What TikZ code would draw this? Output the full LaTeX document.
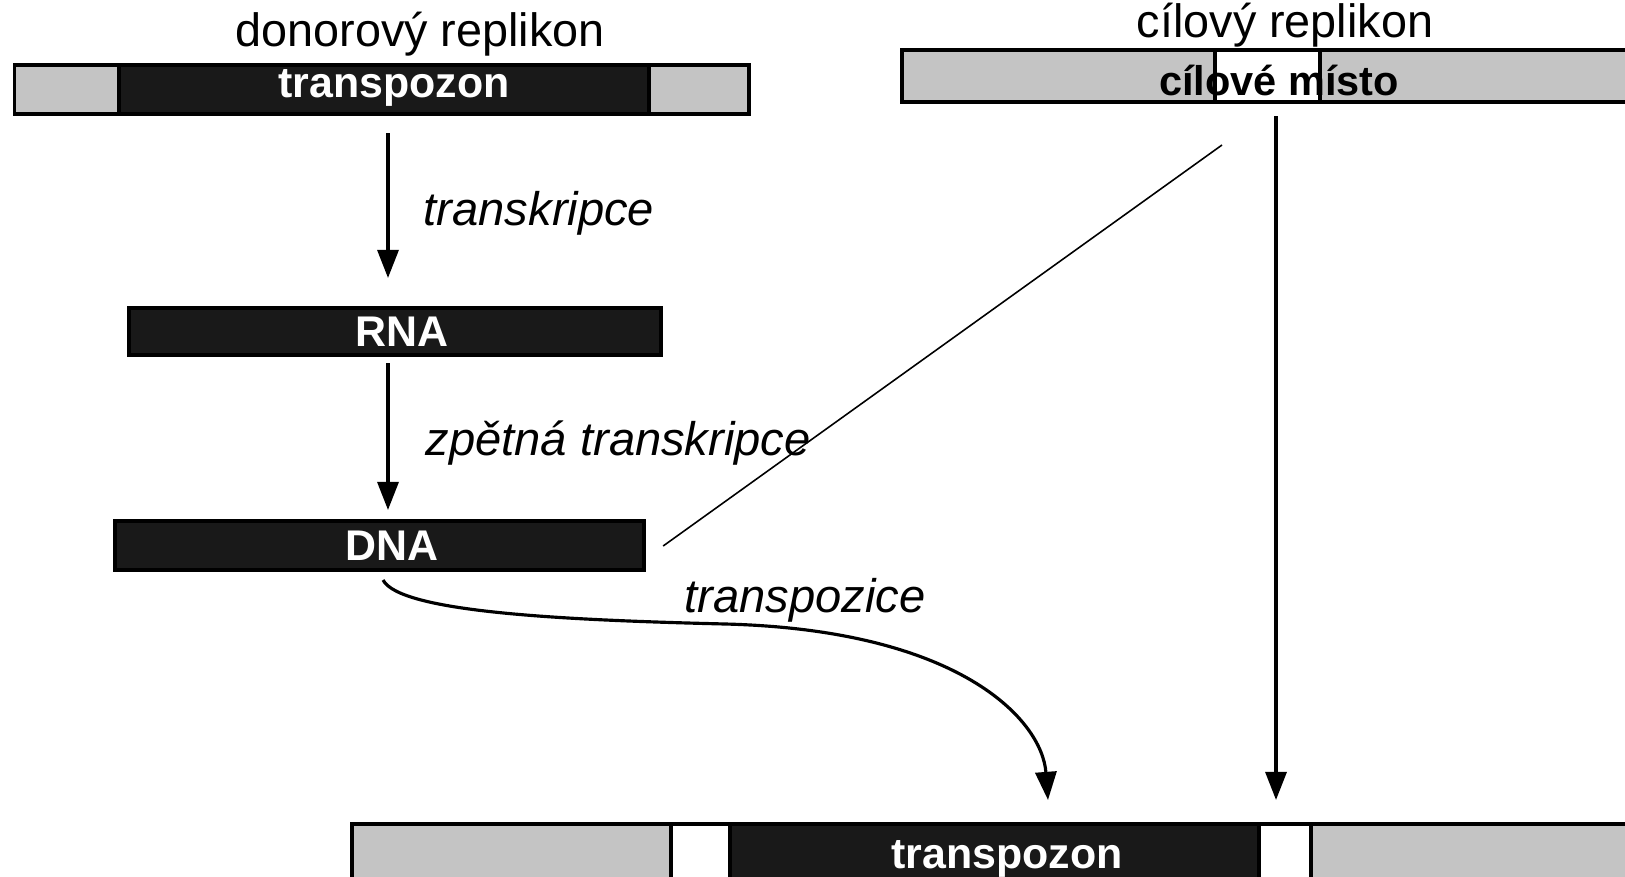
\documentclass[tikz,border=0pt]{standalone}
\usepackage{fontspec}
\setmainfont{Liberation Sans}
\usetikzlibrary{arrows.meta,calc}
\begin{document}
\begin{tikzpicture}[x=0.01cm,y=-0.01cm,
  seg/.style={draw=black,line width=1.1pt,inner sep=0pt,outer sep=0pt},
  grayseg/.style={seg,fill=black!23},
  blackseg/.style={seg,fill=black!90},
  whiteseg/.style={seg,fill=white},
  title/.style={inner sep=0pt,anchor=base,font=\fontsize{13.3}{16}\selectfont},
  lab/.style={inner sep=0pt,anchor=base west,font=\fontsize{13.4}{16}\selectfont\itshape},
  bartext/.style={inner sep=0pt,anchor=base,text=white,font=\fontsize{12.2}{14}\selectfont\bfseries},
  sitetext/.style={inner sep=0pt,anchor=base,text=black,font=\fontsize{11.8}{14}\selectfont\bfseries},
  arr/.style={line width=0.9pt,-{Triangle[width=6pt,length=8pt]}},
  thinline/.style={line width=0.45pt},
]
\useasboundingbox[fill=white] (0,0) rectangle (1625,877);

% titles
\node[title] (donor) at (420,47) {donorový replikon};
\node[title] (target) at (1285,38) {cílový replikon};

% donor replicon bar
\node[grayseg,minimum width=1.045cm,minimum height=0.49cm] (tl_g1) at (66.75,89.5) {};
\node[blackseg,minimum width=5.30cm,minimum height=0.49cm] (tl_black) at (384,89.5) {};
\node[grayseg,minimum width=1.00cm,minimum height=0.49cm] (tl_g2) at (699,89.5) {};
\node[bartext] (tl_text) at (394,98) {transpozon};

% target replicon bar
\node[grayseg,minimum width=3.13cm,minimum height=0.52cm] (tr_g1) at (1058.5,76) {};
\node[whiteseg,minimum width=1.05cm,minimum height=0.52cm] (tr_white) at (1267.5,76) {};
\node[grayseg,minimum width=3.10cm,minimum height=0.52cm] (tr_g2) at (1475,76) {};
\node[sitetext] (site) at (1279,96) {cílové místo};
\draw[line width=1.1pt] (tr_white.north west) -- (tr_white.south west);
\draw[line width=1.1pt] (tr_white.north east) -- (tr_white.south east);

% RNA and DNA
\node[blackseg,minimum width=5.32cm,minimum height=0.47cm] (rna) at (395,331.5) {};
\node[bartext] (rna_text) at (402,347) {RNA};
\node[blackseg,minimum width=5.29cm,minimum height=0.49cm] (dna) at (379.5,545.5) {};
\node[bartext] (dna_text) at (392,561) {DNA};

% bottom bar
\node[grayseg,minimum width=3.19cm,minimum height=0.56cm] (bb_g1) at (511.5,852) {};
\node[whiteseg,minimum width=0.59cm,minimum height=0.56cm] (bb_w1) at (700.5,852) {};
\node[blackseg,minimum width=5.29cm,minimum height=0.56cm] (bb_black) at (994.5,852) {};
\node[whiteseg,minimum width=0.52cm,minimum height=0.56cm] (bb_w2) at (1285,852) {};
\node[grayseg,minimum width=3.19cm,minimum height=0.56cm] (bb_g2) at (1470.5,852) {};
\node[bartext] (bb_text) at (1007,868) {transpozon};

% labels
\node[lab] (l_trans) at (423,226) {transkripce};
\node[lab] (l_rev) at (425,456) {zpětná transkripce};
\node[lab] (l_pos) at (684,613) {transpozice};

% connectors
\coordinate (ax) at (388,0);
\coordinate (vx) at (1276,0);
\coordinate (diagEnd) at (1222,145);
\draw[arr,shorten <=0.19cm,shorten >=0.30cm] (ax |- tl_black.south) -- (ax |- rna.north);
\draw[arr,shorten <=0.08cm,shorten >=0.11cm] (ax |- rna.south) -- (ax |- dna.north);
\draw[thinline] ($(dna.east)+(19,0.5)$) -- (diagEnd);
\draw[arr,shorten <=0.14cm,shorten >=0.24cm] (vx |- tr_white.south) -- (vx |- bb_black.north);
\draw[arr] ($(dna.south)+(3.5,10)$) .. controls (400,612) and (560,620) .. (725,624)
  .. controls (960,630) and (1042,720) .. ($(bb_black.north)+(53.5,-24)$);
\end{tikzpicture}
\end{document}
